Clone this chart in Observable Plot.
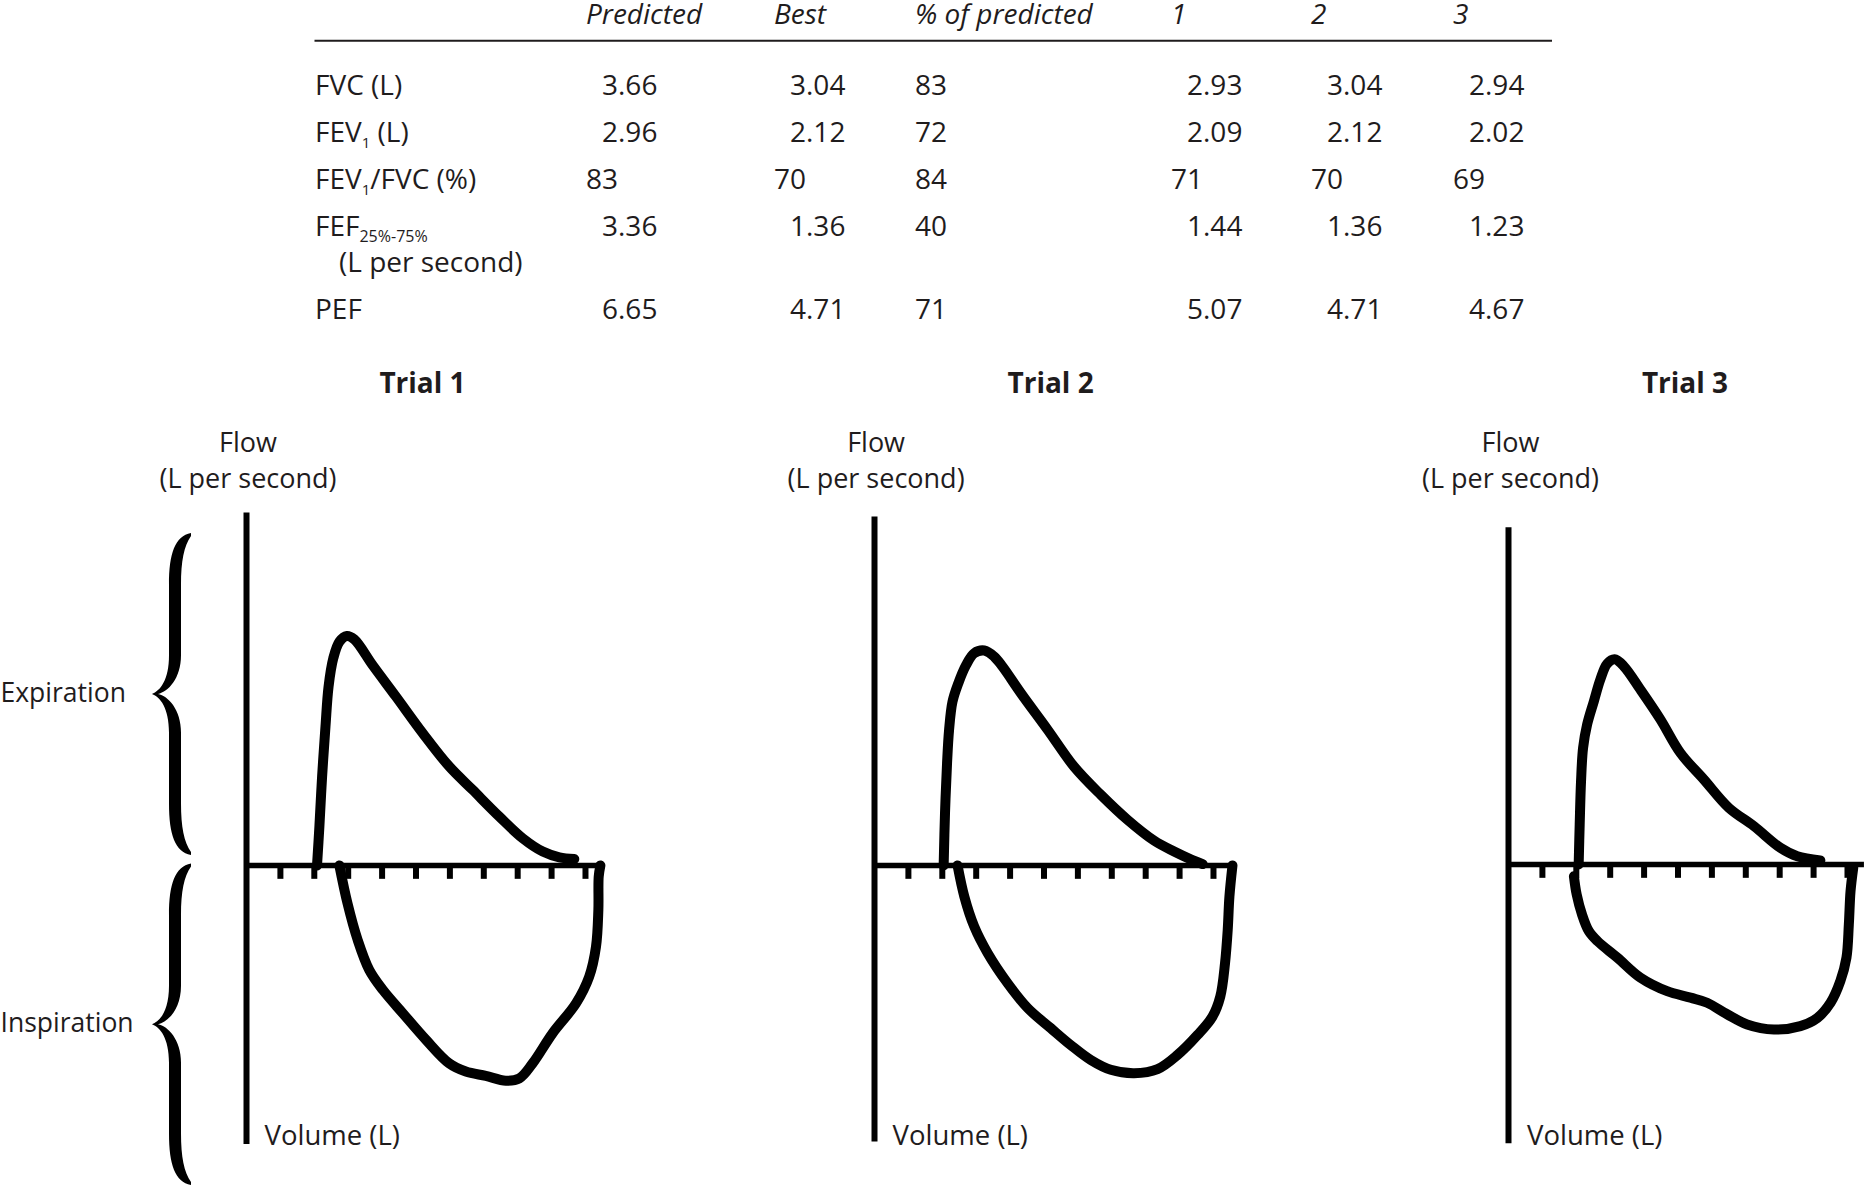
<!DOCTYPE html>
<html>
<head>
<meta charset="utf-8">
<script src="https://cdn.jsdelivr.net/npm/d3@7"></script>
<script src="https://cdn.jsdelivr.net/npm/@observablehq/plot@0.6"></script>
<style>
  html, body { margin: 0; padding: 0; background: #fff; overflow: hidden; }
  #page { position: relative; width: 1864px; height: 1188px; }
  #overlay { position: absolute; left: 0; top: 0; }
  .panel { position: absolute; }
</style>
</head>
<body>
<div id="page"><div id="overlay"></div></div>
<script>
// ---------------- Table data ----------------
const tableColumns = ["Predicted", "Best", "% of predicted", "1", "2", "3"];
const measureLabels = [
  [{t: "FVC (L)"}],
  [{t: "FEV"}, {t: "1", sub: true}, {t: " (L)"}],
  [{t: "FEV"}, {t: "1", sub: true}, {t: "/FVC (%)"}],
  [{t: "FEF"}, {t: "25%-75%", sub: true}],
  [{t: "PEF"}]
];
const measureSecondLine = ["", "", "", "(L per second)", ""];
const predictedValues = [3.66, 2.96, 83, 3.36, 6.65];
const bestValues = [3.04, 2.12, 70, 1.36, 4.71];
const percentOfPredicted = [83, 72, 84, 40, 71];
const trial1Values = [2.93, 2.09, 71, 1.44, 5.07];
const trial2Values = [3.04, 2.12, 70, 1.36, 4.71];
const trial3Values = [2.94, 2.02, 69, 1.23, 4.67];

// ---------------- Flow-volume loops (volume in tick units, flow in same units) ----------------
const trialNames = ["Trial 1", "Trial 2", "Trial 3"];
const volumeTicks = [1, 2, 3, 4, 5, 6, 7, 8, 9, 10];
const flowAxisTop = [10.4, 10.28, 9.93];
const flowAxisBottom = [-8.23, -8.16, -8.24];
const volumeAxisEnd = [10.45, 10.6, 10.5];

const expiration1 = [[2.08,0],[2.15,1.14],[2.23,2.62],[2.33,4.10],[2.42,5.27],[2.56,6.11],[2.74,6.60],[2.96,6.77],[3.18,6.67],[3.72,5.91],[4.41,4.98],[5.20,3.90],[5.98,2.92],[6.67,2.23],[7.46,1.44],[8.15,0.80],[8.74,0.41],[9.23,0.24],[9.67,0.19]];
const inspiration1 = [[2.74,0],[2.98,-1.12],[3.28,-2.20],[3.62,-3.08],[4.02,-3.67],[4.61,-4.36],[5.30,-5.15],[5.98,-5.84],[6.47,-6.08],[7.06,-6.21],[7.65,-6.35],[8.05,-6.28],[8.44,-5.84],[9.03,-4.95],[9.72,-4.07],[10.11,-3.28],[10.31,-2.40],[10.38,-1.31],[10.39,-0.33],[10.44,0]];

const expiration2 = [[2.04,0],[2.08,1.54],[2.14,3.01],[2.20,4.00],[2.30,4.83],[2.47,5.37],[2.70,5.91],[2.94,6.26],[3.24,6.34],[3.53,6.16],[3.78,5.86],[4.32,5.08],[5.11,4.00],[5.89,2.91],[6.68,2.08],[7.47,1.34],[8.25,0.73],[8.84,0.41],[9.33,0.18],[9.68,0.04]];
const inspiration2 = [[2.45,0],[2.65,-0.92],[2.94,-1.80],[3.34,-2.59],[3.93,-3.48],[4.52,-4.21],[5.20,-4.80],[5.79,-5.30],[6.38,-5.74],[6.97,-6.03],[7.66,-6.13],[8.35,-6.01],[8.94,-5.59],[9.53,-5.00],[9.97,-4.46],[10.20,-3.87],[10.34,-2.89],[10.42,-1.90],[10.47,-0.92],[10.56,0]];

const expiration3 = [[2.07,0],[2.10,1.18],[2.14,2.46],[2.20,3.44],[2.32,4.13],[2.52,4.82],[2.71,5.46],[2.91,5.92],[3.13,6.05],[3.40,5.85],[3.89,5.16],[4.48,4.28],[5.07,3.29],[5.76,2.51],[6.50,1.67],[7.24,1.13],[8.02,0.49],[8.52,0.24],[9.20,0.12]];
const inspiration3 = [[1.93,-0.35],[2.01,-0.88],[2.17,-1.48],[2.37,-1.97],[2.62,-2.26],[3.21,-2.75],[3.89,-3.34],[4.68,-3.74],[5.37,-3.93],[5.86,-4.08],[6.45,-4.42],[7.04,-4.72],[7.83,-4.87],[8.61,-4.77],[9.11,-4.53],[9.50,-4.08],[9.79,-3.44],[9.97,-2.75],[10.04,-1.77],[10.09,-0.79],[10.17,-0.1]];

const expirations = [expiration1, expiration2, expiration3];
const inspirations = [inspiration1, inspiration2, inspiration3];

// ---------------- Layout ----------------
const W = 1864, H = 1188;
const ink = "#1f1c1d";
const font = "'Open Sans', 'Noto Sans', sans-serif";
const unit = 33.9;                       // px per tick
const axisXs = [245.5, 873.6, 1508];     // px of flow axis per panel
const zeroYs = [865, 865, 863.5];        // px of zero flow per panel
const xDom = [0, 10.5], yDom = [-8.5, 10.5];
const m = 10;

const page = document.getElementById("page");
const svg = d3.select("#overlay").append("svg")
  .attr("width", W).attr("height", H)
  .style("font-family", font).style("white-space", "pre");

// ---- Table ----
const colLeft = [586, 774, 915, 1171, 1311, 1453];
const headerBase = 23.5;
const rowBase = [95, 141.7, 189, 235.7, 319];
const secondLineBase = 272;
const tableFont = 28;

tableColumns.forEach((c, i) => {
  svg.append("text").attr("x", colLeft[i]).attr("y", headerBase)
    .attr("font-size", tableFont).attr("font-style", "italic").attr("fill", ink).text(c);
});
svg.append("line").attr("x1", 314.5).attr("x2", 1552).attr("y1", 40.7).attr("y2", 40.7)
  .attr("stroke", ink).attr("stroke-width", 2);

measureLabels.forEach((parts, r) => {
  const t = svg.append("text").attr("x", 315).attr("y", rowBase[r])
    .attr("font-size", tableFont).attr("fill", ink);
  let lastSub = false;
  parts.forEach(p => {
    if (p.sub) {
      t.append("tspan").attr("dy", 6).attr("font-size", p.t.length > 1 ? 16 : 15).text(p.t);
      lastSub = true;
    } else {
      t.append("tspan").attr("dy", lastSub ? -6 : 0).text(p.t);
      lastSub = false;
    }
  });
  if (measureSecondLine[r]) {
    svg.append("text").attr("x", 339).attr("y", secondLineBase)
      .attr("font-size", tableFont).attr("fill", ink).text(measureSecondLine[r]);
  }
});

const columnValues = [predictedValues, bestValues, percentOfPredicted, trial1Values, trial2Values, trial3Values];
columnValues.forEach((vals, c) => {
  vals.forEach((v, r) => {
    const isInt = (c === 2 || r === 2);
    svg.append("text").attr("x", colLeft[c] + (isInt ? 0 : 16)).attr("y", rowBase[r])
      .attr("font-size", tableFont).attr("fill", ink)
      .text(isInt ? String(v) : v.toFixed(2));
  });
});

// ---- Side labels and braces ----
svg.append("text").attr("x", 0.5).attr("y", 702).attr("font-size", 26.5).attr("fill", ink).text("Expiration");
svg.append("text").attr("x", 0.5).attr("y", 1032).attr("font-size", 26.5).attr("fill", ink).text("Inspiration");

function bracePath(tipX, y0, y1) {
  const ym = (y0 + y1) / 2, h = y1 - y0;
  const xe = tipX + 39, L = tipX + 17, R = tipX + 29;
  const a = h * 0.16, b = h * 0.12;
  return `M${xe},${y0}
    C${L+6},${y0+3} ${L},${y0+a*0.4} ${L},${y0+a}
    L${L},${ym-b}
    C${L},${ym-b*0.35} ${tipX+8},${ym-3} ${tipX},${ym}
    C${tipX+8},${ym+3} ${L},${ym+b*0.35} ${L},${ym+b}
    L${L},${y1-a}
    C${L},${y1-a*0.4} ${L+6},${y1-3} ${xe},${y1}
    L${xe},${y1-3}
    C${R+3},${y1-a*0.25} ${R},${y1-a*0.55} ${R},${y1-a}
    L${R},${ym+b}
    C${R},${ym+b*0.4} ${tipX+16},${ym+2} ${tipX+6},${ym}
    C${tipX+16},${ym-2} ${R},${ym-b*0.4} ${R},${ym-b}
    L${R},${y0+a}
    C${R},${y0+a*0.55} ${R+3},${y0+a*0.25} ${xe},${y0+3} Z`;
}
svg.append("path").attr("d", bracePath(152, 533, 855)).attr("fill", "#000");
svg.append("path").attr("d", bracePath(152, 863.5, 1185)).attr("fill", "#000");

// ---- Panel labels ----
trialNames.forEach((name, i) => {
  const ax = axisXs[i];
  svg.append("text").attr("x", ax + 177).attr("y", 393).attr("text-anchor", "middle")
    .attr("font-size", 28).attr("font-weight", "bold").attr("fill", ink).text(name);
  svg.append("text").attr("x", ax + 2.5).attr("y", 452).attr("text-anchor", "middle")
    .attr("font-size", 27).attr("fill", ink).text("Flow");
  svg.append("text").attr("x", ax + 2.5).attr("y", 488).attr("text-anchor", "middle")
    .attr("font-size", 27).attr("fill", ink).text("(L per second)");
  svg.append("text").attr("x", ax + 19).attr("y", 1145)
    .attr("font-size", 27.5).attr("fill", ink).text("Volume (L)");
});

// ---- Plots ----
trialNames.forEach((name, i) => {
  const width = 2 * m + (xDom[1] - xDom[0]) * unit;
  const height = 2 * m + (yDom[1] - yDom[0]) * unit;
  const chart = Plot.plot({
    width, height,
    marginLeft: m, marginRight: m, marginTop: m, marginBottom: m,
    x: {domain: xDom, axis: null},
    y: {domain: yDom, axis: null},
    style: {background: "transparent", overflow: "visible", maxWidth: "none"},
    marks: [
      Plot.ruleX([0], {y1: flowAxisBottom[i], y2: flowAxisTop[i], stroke: "#000", strokeWidth: 6}),
      Plot.ruleY([0], {x1: 0, x2: volumeAxisEnd[i], stroke: "#000", strokeWidth: 5.5}),
      Plot.ruleX(volumeTicks, {x: d => d, y1: 0, y2: -0.41, stroke: "#000", strokeWidth: 6}),
      Plot.line(expirations[i], {x: d => d[0], y: d => d[1], curve: "catmull-rom",
        stroke: "#000", strokeWidth: 10, strokeLinecap: "round", strokeLinejoin: "round"}),
      Plot.line(inspirations[i], {x: d => d[0], y: d => d[1], curve: "catmull-rom",
        stroke: "#000", strokeWidth: 10, strokeLinecap: "round", strokeLinejoin: "round"})
    ]
  });
  const div = document.createElement("div");
  div.className = "panel";
  div.style.left = (axisXs[i] - m) + "px";
  div.style.top = (zeroYs[i] - m - yDom[1] * unit) + "px";
  div.appendChild(chart);
  page.appendChild(div);
});
</script>
</body>
</html>
